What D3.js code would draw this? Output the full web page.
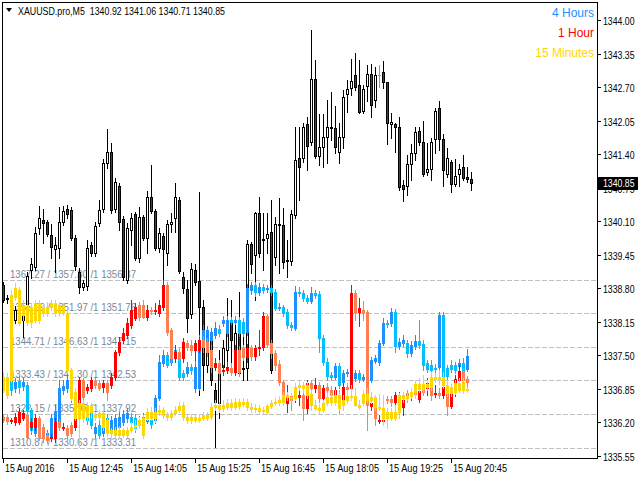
<!DOCTYPE html>
<html>
<head>
<meta charset="utf-8">
<script src="https://cdn.jsdelivr.net/npm/d3@7"></script>
<style>
body { margin: 0; background: #fff; }
svg text { font-family: "Liberation Sans", Arial, sans-serif; font-size: 11px; }
svg text.price { font-size: 10px; }
</style>
</head>
<body>
<div id="chart"></div>
<script>
// XAUUSD M5 bars, 15 Aug 2016 11:25 .. 21:10
let mainOpen = [1338.87,1338.61,1338.57,1338.19,1338.19,1338.19,1338.23,1339.16,1339.21,1339.97,1340.12,1340.09,1339.83,1339.56,1339.58,1340.09,1340.34,1340.32,1339.78,1339.12,1338.83,1338.85,1339.64,1339.48,1340.07,1340.34,1341.23,1341.44,1340.34,1340.78,1340.14,1338.96,1339.93,1340.24,1339.39,1340.18,1339.78,1340.57,1340.30,1339.58,1339.81,1339.48,1340.05,1340.16,1340.51,1339.02,1338.79,1338.30,1339.16,1338.94,1338.44,1337.32,1337.80,1336.83,1336.58,1337.27,1337.61,1338.13,1337.35,1338.03,1337.26,1337.26,1339.66,1339.45,1340.26,1339.76,1339.78,1339.89,1339.41,1340.05,1340.03,1339.35,1339.33,1340.22,1341.33,1341.33,1341.99,1341.64,1342.86,1341.36,1341.54,1341.73,1341.93,1341.91,1341.44,1341.73,1342.57,1342.68,1342.93,1342.74,1342.24,1342.72,1342.95,1342.45,1342.93,1342.99,1342.80,1341.98,1341.99,1341.93,1340.80,1340.78,1341.21,1341.42,1341.85,1341.64,1341.06,1341.11,1341.69,1342.29,1341.69,1341.01,1341.25,1340.82,1341.01,1341.15,1340.96,1340.92];
let mainHigh = [1338.92,1338.67,1338.61,1338.46,1338.42,1338.48,1339.12,1339.39,1339.99,1340.40,1340.34,1340.12,1340.05,1339.80,1340.38,1340.40,1340.42,1340.38,1339.83,1339.20,1338.96,1339.74,1339.70,1340.09,1340.51,1341.31,1341.89,1341.62,1340.94,1340.84,1340.20,1340.07,1340.26,1340.28,1340.38,1340.22,1340.69,1341.19,1340.34,1339.97,1339.87,1340.12,1340.26,1340.84,1340.57,1339.12,1338.96,1339.29,1339.27,1340.67,1338.57,1337.99,1337.90,1336.97,1337.61,1337.80,1338.61,1338.57,1338.19,1338.73,1338.19,1339.74,1339.70,1340.28,1340.57,1340.26,1340.26,1340.51,1340.18,1340.55,1340.36,1339.74,1340.32,1341.93,1341.93,1342.00,1342.12,1343.81,1343.23,1342.18,1342.18,1342.45,1342.60,1342.33,1342.00,1342.64,1342.84,1343.24,1343.36,1343.22,1342.74,1343.13,1343.15,1343.09,1343.13,1343.21,1342.80,1342.20,1342.00,1342.12,1340.90,1341.38,1341.60,1341.93,1341.93,1342.04,1341.62,1341.71,1342.29,1342.43,1341.79,1341.52,1341.29,1341.31,1341.21,1341.38,1341.15,1341.06];
let mainLow = [1338.54,1338.52,1338.23,1338.13,1338.15,1337.86,1338.15,1339.00,1339.16,1339.85,1339.68,1339.81,1339.39,1339.12,1339.39,1340.03,1340.16,1339.74,1339.16,1338.71,1338.77,1338.77,1339.43,1339.43,1340.01,1340.28,1341.13,1340.26,1340.28,1339.93,1338.96,1338.90,1339.64,1339.35,1339.31,1339.74,1339.48,1340.26,1339.54,1339.50,1338.96,1339.25,1339.89,1339.89,1339.10,1338.71,1337.95,1338.23,1338.86,1336.73,1336.83,1337.18,1336.93,1335.73,1336.29,1337.22,1337.16,1337.12,1337.26,1337.12,1337.02,1337.02,1339.10,1338.57,1339.41,1339.16,1339.48,1337.16,1339.25,1339.10,1339.19,1339.02,1339.25,1340.16,1340.51,1341.25,1341.09,1341.58,1341.33,1341.19,1341.15,1341.23,1341.68,1341.42,1341.23,1341.52,1342.22,1342.55,1342.64,1342.20,1342.20,1342.43,1342.12,1342.31,1342.70,1342.68,1341.60,1341.71,1341.44,1340.71,1340.49,1340.61,1340.90,1341.29,1341.58,1340.98,1341.00,1340.90,1341.42,1341.48,1340.78,1340.96,1340.67,1340.78,1340.78,1340.90,1340.86,1340.71];
let mainClose = [1338.57,1338.59,1338.30,1338.38,1338.36,1338.38,1339.04,1339.27,1339.87,1340.16,1340.07,1339.85,1339.60,1339.64,1340.09,1340.30,1340.24,1339.78,1339.23,1338.83,1338.90,1339.58,1339.48,1340.01,1340.32,1341.23,1341.44,1340.32,1340.86,1340.09,1339.02,1339.97,1340.16,1339.39,1340.18,1339.78,1340.57,1340.30,1339.58,1339.87,1339.56,1340.05,1340.09,1340.57,1339.14,1338.81,1338.23,1339.18,1338.92,1338.44,1337.32,1337.80,1337.02,1336.60,1337.35,1337.64,1338.15,1337.80,1337.94,1337.16,1337.24,1339.66,1339.27,1340.26,1339.48,1339.74,1339.85,1337.22,1340.05,1340.03,1339.31,1339.33,1340.24,1341.29,1341.15,1341.93,1341.56,1342.86,1341.36,1341.54,1341.73,1341.93,1341.91,1341.54,1341.73,1342.51,1342.66,1342.82,1342.70,1342.22,1342.66,1342.95,1342.35,1342.93,1342.93,1342.80,1342.00,1342.02,1341.93,1340.76,1340.73,1341.21,1341.42,1341.83,1341.64,1341.02,1341.11,1341.64,1342.24,1341.69,1341.09,1341.33,1340.82,1340.98,1341.11,1340.94,1340.92,1340.85];

// 4 Hours bars shown in the lower pane
let h4Open = [1333.5,1330.2,1333.2,1330.9,1333.2,1331.5,1331.9,1323.5,1315.8,1320.1,1317.5,1315.1,1314.4,1317.5,1318.5,1330.2,1330.9,1330.2,1327.5,1326.2,1324.8,1323.5,1323.5,1315.8,1318.5,1315.8,1320.8,1316.8,1316.8,1317.8,1319.5,1320.8,1321.1,1320.8,1318.5,1319.5,1319.8,1320.1,1320.1,1327.5,1339.2,1341.9,1339.6,1343.6,1342.9,1335.9,1335.9,1337.9,1330.9,1330.9,1346.9,1346.3,1346.9,1348.6,1350.6,1352.6,1349.3,1353.6,1353.0,1353.6,1353.0,1349.6,1363.7,1365.4,1363.0,1364.7,1364.0,1364.4,1363.0,1357.7,1358.0,1356.3,1352.0,1350.9,1363.0,1362.7,1361.0,1360.0,1362.7,1362.3,1347.6,1339.6,1335.2,1334.5,1338.2,1332.9,1335.9,1336.2,1334.2,1335.9,1333.9,1333.5,1333.5,1339.9,1339.6,1345.9,1352.6,1352.6,1356.3,1344.9,1345.9,1345.9,1342.6,1344.9,1346.6,1345.6,1339.2,1338.6,1337.6,1337.9,1355.3,1337.6,1338.6,1338.6,1338.2,1339.2,1337.2];
let h4High = [1334.9,1335.2,1334.2,1334.2,1334.9,1334.2,1332.9,1324.2,1321.8,1320.8,1318.5,1316.8,1322.1,1325.2,1333.5,1333.5,1335.5,1331.5,1328.9,1327.5,1326.2,1325.2,1324.8,1319.1,1320.1,1320.8,1322.1,1321.5,1322.1,1322.8,1323.5,1324.2,1322.5,1322.1,1321.5,1322.5,1321.5,1321.5,1328.5,1341.9,1343.6,1342.9,1343.6,1344.6,1343.6,1336.9,1339.6,1338.9,1340.2,1348.6,1352.0,1351.6,1351.0,1353.0,1352.0,1355.0,1355.0,1354.6,1355.0,1354.6,1354.3,1365.7,1366.4,1366.4,1366.0,1365.7,1365.4,1365.4,1364.0,1359.3,1358.7,1357.3,1353.0,1365.0,1364.7,1363.7,1362.0,1364.7,1363.7,1363.4,1348.6,1340.9,1336.2,1339.2,1339.2,1336.9,1337.2,1337.2,1336.9,1336.9,1335.5,1335.5,1341.2,1341.9,1346.9,1354.3,1353.6,1357.7,1357.3,1347.6,1348.6,1346.9,1346.6,1348.6,1353.6,1346.9,1340.2,1340.2,1338.9,1356.3,1356.3,1338.6,1340.2,1339.6,1340.6,1340.9,1343.9];
let h4Low = [1329.5,1328.5,1328.5,1329.5,1329.2,1330.2,1322.8,1315.4,1314.8,1314.1,1313.4,1314.1,1313.4,1316.8,1317.5,1328.9,1329.5,1326.2,1324.8,1322.8,1321.5,1318.8,1317.5,1314.4,1314.1,1314.8,1314.8,1315.8,1316.1,1316.8,1318.5,1319.5,1318.1,1316.1,1317.5,1318.5,1319.1,1317.5,1319.1,1326.8,1338.2,1337.9,1338.6,1340.9,1333.5,1333.5,1334.9,1335.5,1329.5,1330.2,1345.9,1345.3,1345.6,1347.6,1348.3,1351.6,1348.3,1352.3,1352.3,1348.3,1348.3,1348.6,1362.3,1361.7,1362.0,1362.7,1363.0,1362.0,1357.0,1357.0,1355.0,1351.0,1350.3,1350.3,1361.7,1360.0,1359.3,1359.3,1361.0,1342.9,1338.6,1333.5,1333.5,1333.9,1330.9,1331.9,1334.9,1334.2,1333.2,1332.9,1333.2,1332.9,1332.9,1339.2,1338.6,1345.3,1351.3,1351.6,1342.9,1343.9,1344.9,1341.2,1341.6,1343.9,1344.3,1336.9,1336.2,1335.9,1336.2,1336.9,1333.5,1333.9,1336.2,1335.9,1337.2,1335.9,1336.5];
let h4Close = [1330.9,1333.2,1330.2,1332.9,1331.2,1332.9,1323.5,1316.8,1320.1,1316.8,1314.4,1315.8,1320.8,1322.8,1330.9,1331.5,1333.5,1327.5,1326.2,1324.2,1322.8,1320.1,1318.5,1317.8,1315.1,1319.5,1315.8,1320.1,1320.8,1321.1,1322.1,1322.5,1319.5,1317.5,1320.1,1321.1,1320.1,1318.8,1327.5,1339.6,1341.9,1338.6,1342.6,1341.9,1334.5,1334.5,1337.9,1336.9,1337.9,1346.3,1350.3,1350.3,1349.6,1351.0,1349.3,1353.6,1353.6,1353.0,1353.6,1349.3,1349.3,1364.4,1365.4,1363.0,1364.7,1363.7,1364.4,1363.0,1357.7,1358.0,1356.0,1352.0,1351.3,1363.0,1362.7,1361.0,1360.0,1362.7,1362.0,1347.6,1339.6,1334.9,1334.5,1338.2,1331.9,1335.9,1336.2,1335.2,1335.9,1333.9,1334.5,1334.2,1340.2,1340.9,1345.9,1352.6,1352.3,1356.3,1344.9,1346.3,1346.9,1342.6,1345.3,1346.6,1345.3,1338.6,1337.2,1336.9,1337.2,1355.3,1334.5,1334.9,1337.2,1336.9,1339.2,1336.9,1341.6];

// 1 Hour bars
let h1Open = [1335.49,1335.49,1334.85,1334.69,1334.69,1335.33,1335.81,1333.90,1333.90,1335.33,1333.90,1332.64,1332.16,1332.16,1334.69,1333.74,1333.74,1334.22,1333.90,1337.70,1341.35,1339.77,1340.08,1341.19,1340.87,1340.24,1340.87,1340.56,1341.83,1345.78,1347.69,1348.48,1350.06,1351.17,1353.23,1353.23,1351.33,1352.44,1352.28,1351.96,1352.91,1356.40,1349.27,1344.83,1345.78,1344.83,1347.21,1346.89,1346.10,1346.10,1347.69,1347.37,1346.10,1343.41,1344.04,1342.78,1342.93,1343.25,1342.62,1346.10,1346.42,1345.00,1346.42,1345.15,1346.42,1346.58,1351.49,1347.21,1345.63,1343.89,1341.04,1337.70,1338.82,1338.50,1338.66,1338.97,1336.92,1340.87,1340.08,1340.56,1338.50,1340.24,1339.77,1338.97,1338.97,1337.86,1340.24,1340.08,1355.13,1352.12,1352.44,1352.12,1337.23,1337.07,1334.85,1334.85,1338.34,1338.34,1337.86,1338.66,1337.07,1339.29,1338.82,1339.45,1338.34,1340.08,1340.08,1340.56,1339.13,1339.29,1338.97,1339.29,1337.23,1339.45,1341.35,1342.78,1341.51];
let h1High = [1335.97,1335.81,1335.33,1336.13,1336.92,1336.60,1336.28,1335.33,1335.97,1335.65,1334.38,1333.11,1332.80,1335.33,1335.17,1334.53,1334.22,1334.69,1338.81,1341.82,1341.66,1340.72,1341.83,1341.66,1341.35,1341.35,1341.35,1342.46,1346.10,1348.16,1349.58,1351.17,1354.02,1353.55,1353.71,1354.02,1353.23,1352.91,1353.55,1354.02,1357.19,1356.87,1349.58,1346.89,1346.42,1348.00,1347.69,1347.69,1347.69,1348.16,1348.32,1348.00,1346.89,1344.83,1344.52,1343.73,1344.20,1344.04,1346.89,1346.73,1346.89,1347.05,1346.89,1346.89,1349.27,1352.12,1351.81,1347.69,1346.10,1344.52,1341.35,1340.56,1339.29,1340.08,1339.77,1339.77,1341.35,1341.35,1341.66,1341.04,1340.56,1340.87,1340.40,1340.24,1339.77,1340.87,1340.87,1356.40,1355.61,1354.34,1353.86,1352.44,1338.18,1337.70,1335.81,1336.92,1338.82,1338.82,1339.45,1339.45,1338.97,1339.77,1340.08,1339.93,1340.24,1340.56,1341.66,1341.35,1340.56,1340.08,1340.56,1340.56,1340.08,1342.14,1343.73,1343.25,1341.98];
let h1Low = [1334.69,1334.38,1334.53,1334.22,1334.38,1335.01,1331.85,1333.43,1333.43,1331.85,1331.53,1331.37,1331.69,1331.53,1333.43,1333.43,1332.16,1332.48,1333.43,1337.39,1338.18,1339.29,1339.61,1340.08,1339.77,1339.45,1338.18,1340.08,1341.35,1345.31,1347.21,1348.00,1349.58,1350.85,1350.85,1351.17,1350.85,1351.81,1351.81,1351.49,1352.44,1348.48,1344.20,1344.20,1344.20,1344.20,1346.10,1345.31,1344.52,1345.78,1345.78,1345.15,1342.62,1342.93,1341.35,1342.14,1342.46,1342.14,1342.14,1341.98,1344.52,1344.20,1344.52,1344.52,1345.31,1346.10,1346.58,1344.83,1342.93,1340.56,1337.39,1336.28,1336.60,1337.86,1337.39,1335.01,1336.13,1339.45,1339.45,1337.86,1337.86,1338.97,1338.18,1338.50,1336.13,1336.60,1338.97,1339.77,1350.85,1349.90,1350.85,1333.43,1336.60,1334.22,1334.53,1334.53,1337.70,1337.23,1337.39,1338.18,1335.81,1337.86,1338.18,1338.50,1337.86,1338.97,1338.97,1338.18,1338.66,1338.50,1338.50,1335.81,1336.92,1338.82,1340.56,1340.56,1340.40];
let h1Close = [1335.01,1334.85,1335.01,1335.49,1336.28,1336.13,1332.32,1334.69,1335.33,1332.32,1332.16,1331.85,1332.32,1334.69,1333.90,1333.90,1332.64,1332.95,1338.18,1341.35,1338.66,1340.24,1341.35,1340.56,1340.08,1340.87,1339.45,1341.83,1345.78,1347.37,1348.79,1350.38,1352.44,1352.91,1351.33,1351.33,1352.44,1352.28,1352.44,1353.23,1356.40,1348.95,1344.83,1345.78,1344.83,1347.37,1346.58,1346.10,1347.21,1347.69,1346.58,1345.78,1343.41,1344.04,1342.46,1342.93,1343.41,1342.62,1346.10,1342.62,1345.00,1346.42,1345.15,1346.42,1346.58,1351.49,1347.05,1345.63,1343.73,1341.04,1338.97,1338.50,1338.18,1339.29,1338.97,1336.92,1340.87,1340.08,1340.56,1338.50,1340.08,1339.77,1338.97,1339.77,1336.92,1340.24,1339.93,1355.13,1352.12,1352.75,1351.96,1337.39,1337.70,1335.33,1335.01,1335.01,1338.18,1337.86,1338.97,1338.97,1338.18,1338.50,1339.45,1339.13,1339.61,1339.45,1340.87,1338.97,1339.29,1338.97,1340.24,1337.23,1339.29,1341.51,1342.78,1341.35,1341.04];

// 15 Minutes bars
let m15Open = [1341.22,1340.54,1342.59,1353.95,1354.91,1351.49,1352.86,1350.53,1350.80,1353.13,1351.76,1352.58,1352.58,1353.13,1351.76,1352.86,1351.76,1343.96,1340.95,1337.38,1339.44,1337.52,1339.17,1337.79,1337.52,1338.07,1337.11,1335.33,1335.74,1335.06,1335.74,1335.06,1335.74,1336.15,1336.42,1335.06,1337.38,1338.21,1337.38,1338.21,1338.48,1337.79,1337.52,1338.07,1338.48,1339.17,1337.52,1337.11,1337.52,1337.11,1337.38,1337.79,1337.52,1338.89,1339.17,1338.75,1338.89,1339.44,1338.89,1339.58,1339.30,1339.58,1338.89,1338.62,1338.75,1338.34,1338.21,1339.03,1339.44,1339.58,1339.58,1340.54,1340.26,1340.12,1341.63,1341.90,1341.90,1340.67,1339.17,1338.75,1338.48,1339.44,1340.26,1339.58,1340.54,1339.17,1339.85,1340.26,1340.40,1339.17,1339.44,1340.67,1339.85,1340.26,1338.89,1338.75,1337.38,1338.21,1337.38,1338.21,1340.54,1340.12,1340.40,1340.95,1342.04,1341.36,1342.04,1341.63,1343.00,1342.73,1343.00,1341.90,1340.81,1340.95,1342.18,1341.22,1341.22];
let m15High = [1343.69,1343.55,1354.91,1355.87,1355.32,1353.54,1353.54,1353.13,1353.54,1353.54,1353.13,1353.27,1353.54,1353.54,1353.27,1353.13,1352.17,1344.24,1341.49,1339.85,1339.85,1339.58,1339.44,1338.21,1338.48,1338.48,1337.38,1336.01,1336.15,1336.29,1336.01,1336.15,1336.84,1337.11,1337.52,1337.79,1338.75,1338.89,1338.75,1339.17,1338.89,1338.21,1338.48,1339.03,1339.58,1339.58,1337.93,1337.93,1337.79,1337.79,1338.21,1338.21,1339.44,1339.85,1339.58,1339.85,1339.99,1339.99,1340.12,1339.99,1340.12,1339.99,1339.44,1339.30,1339.17,1338.89,1339.30,1339.85,1340.12,1340.40,1340.95,1340.95,1340.81,1342.18,1342.59,1342.32,1342.32,1341.22,1339.85,1339.30,1339.85,1340.81,1340.81,1341.22,1340.95,1340.54,1341.22,1341.90,1341.49,1339.85,1341.22,1341.49,1340.95,1340.54,1340.67,1340.54,1338.75,1338.75,1339.17,1340.81,1340.95,1340.81,1341.49,1342.59,1342.86,1343.28,1342.59,1343.69,1343.55,1343.96,1343.69,1342.59,1342.04,1342.59,1342.86,1342.86,1341.63];
let m15Low = [1340.95,1340.12,1342.32,1353.54,1350.12,1350.80,1350.12,1349.84,1350.53,1350.39,1351.35,1351.35,1352.17,1351.35,1351.35,1351.49,1343.69,1339.85,1337.11,1333.41,1336.84,1337.11,1337.38,1337.11,1337.11,1335.74,1334.92,1334.64,1334.64,1334.64,1334.78,1334.78,1335.47,1335.74,1336.01,1334.64,1337.11,1337.11,1336.84,1337.79,1337.38,1337.11,1337.11,1337.79,1338.21,1337.11,1336.70,1336.70,1336.84,1336.84,1337.11,1337.11,1337.25,1338.48,1338.21,1338.34,1338.62,1338.48,1338.62,1338.62,1339.03,1338.48,1338.21,1338.21,1338.07,1338.07,1337.93,1338.75,1339.17,1339.17,1339.17,1339.85,1339.58,1339.85,1341.22,1340.95,1340.12,1338.48,1338.48,1338.07,1338.21,1339.17,1339.17,1339.17,1338.48,1338.48,1339.44,1339.85,1339.03,1338.62,1339.17,1339.58,1339.44,1338.48,1338.48,1336.42,1336.01,1337.11,1337.11,1337.38,1339.58,1339.85,1340.12,1340.12,1340.95,1340.95,1341.22,1341.22,1342.32,1342.04,1341.49,1340.40,1340.40,1340.67,1340.95,1340.81,1340.95];
let m15Close = [1343.00,1343.00,1354.23,1355.18,1350.39,1352.86,1350.53,1352.58,1353.13,1350.80,1352.58,1351.76,1353.13,1351.76,1352.86,1351.76,1343.96,1340.12,1337.38,1339.44,1337.38,1339.17,1338.21,1337.52,1338.07,1336.15,1335.33,1335.74,1335.06,1335.74,1335.06,1335.74,1336.15,1336.42,1337.11,1337.38,1338.21,1337.38,1338.21,1338.48,1337.79,1337.52,1338.07,1338.48,1339.03,1337.52,1337.11,1337.52,1337.11,1337.38,1337.79,1337.38,1338.89,1339.17,1338.62,1339.17,1339.44,1338.89,1339.58,1339.03,1339.58,1338.89,1338.62,1338.75,1338.34,1338.48,1339.03,1339.44,1339.58,1339.85,1340.54,1340.26,1340.12,1341.63,1341.90,1341.49,1340.54,1339.17,1338.75,1338.48,1339.44,1340.26,1339.58,1340.54,1338.75,1339.85,1340.40,1340.40,1339.17,1338.89,1340.67,1339.85,1340.26,1338.89,1338.75,1337.38,1338.21,1337.38,1338.21,1340.54,1340.12,1340.40,1340.95,1342.04,1341.36,1342.04,1341.63,1343.00,1342.73,1343.00,1341.90,1340.81,1341.63,1342.18,1341.22,1342.32,1341.36];

// price levels printed on the dashed lines of the lower pane
let h4Levels = [1367.27,1355.99,1344.71,1333.43,1322.15,1310.87];
let h1Levels = [1357.30,1351.97,1346.63,1341.30,1335.97,1330.63];
let m15Levels = [1356.37,1351.76,1347.15,1342.53,1337.92,1333.31];

let priceTicks = [1344.00,1343.35,1342.70,1342.05,1341.40,1340.75,1340.10,1339.45,1338.80,1338.15,1337.50,1336.85,1336.20,1335.55];
let timeLabels = ["15 Aug 2016","15 Aug 12:45","15 Aug 14:05","15 Aug 15:25","15 Aug 16:45","15 Aug 18:05","15 Aug 19:25","15 Aug 20:45"];
let timeTickBars = [0,16,32,48,64,80,96,112];

let legendNames = ["4 Hours","1 Hour","15 Minutes"];
let legendColors = ["#1e90ff","#ff0000","#ffd700"];

let svg = d3.select("#chart").append("svg")
    .attr("width", 640)
    .attr("height", 480);

let x = d3.scaleLinear().domain([0, mainOpen.length - 1]).range([3, 471]);
let y = d3.scaleLinear().domain([1335.55, 1344.00]).range([456, 20]);

// lower pane scales, one per timeframe
let paneRange = [447.5, 279.5];
let yH4 = d3.scaleLinear().domain([h4Levels[5], h4Levels[0]]).range(paneRange);
let yH1 = d3.scaleLinear().domain([h1Levels[5], h1Levels[0]]).range(paneRange);
let yM15 = d3.scaleLinear().domain([m15Levels[5], m15Levels[0]]).range(paneRange);

// the terminal font is narrow; squeeze text to its width (~4.5px a char)
function narrow(sel, str) {
    sel.text(str)
        .attr("textLength", (str.length * 4.5).toFixed(1))
        .attr("lengthAdjust", "spacingAndGlyphs");
    return sel;
}

let gGrid = svg.append("g").attr("shape-rendering", "crispEdges");
let gMain = svg.append("g").attr("shape-rendering", "crispEdges");
let gOver = svg.append("g").attr("shape-rendering", "crispEdges");
let gAxis = svg.append("g");

// dashed level lines + their labels
h4Levels.forEach((lv, k) => {
    let ly = Math.round(yH4(lv)) + 0.5;
    gGrid.append("line")
        .attr("x1", 3).attr("x2", 597)
        .attr("y1", ly).attr("y2", ly)
        .attr("stroke", "#c0c0c0")
        .attr("stroke-dasharray", "5,2");
    narrow(gGrid.append("text")
        .attr("x", 10)
        .attr("y", ly - 2.5)
        .attr("fill", "#778899"),
        lv.toFixed(2) + " / " + h1Levels[k].toFixed(2) + " /1 " + m15Levels[k].toFixed(2));
});

// main M5 candles
mainOpen.forEach((op, i) => {
    let cl = mainClose[i];
    let cx = Math.round(x(i));
    let yh = Math.round(y(mainHigh[i])), yl = Math.round(y(mainLow[i]));
    let yt = Math.round(y(Math.max(op, cl))), yb = Math.round(y(Math.min(op, cl)));
    let doji = op === cl;
    let ink = doji ? "#00ff00" : "#000";
    gMain.append("rect")
        .attr("x", cx).attr("y", yh)
        .attr("width", 1).attr("height", Math.max(1, yl - yh + 1))
        .attr("fill", ink);
    if (doji) {
        gMain.append("rect").attr("x", cx - 1).attr("y", yt).attr("width", 3).attr("height", 1).attr("fill", ink);
        return;
    }
    gMain.append("rect")
        .attr("x", cx - 1).attr("y", yt)
        .attr("width", 3).attr("height", Math.max(1, yb - yt + 1))
        .attr("fill", "#000");
    if (yb - yt > 1) {
        gMain.append("rect")
            .attr("x", cx).attr("y", yt + 1)
            .attr("width", 1).attr("height", yb - yt - 1)
            .attr("fill", cl > op ? "#fff" : "#e00000");
    }
});

function drawOverlay(o, h, l, c, sc, upColor, downColor) {
    o.forEach((op, i) => {
        let cl = c[i];
        let cx = Math.round(x(i));
        let col = cl >= op ? upColor : downColor;
        let yh = Math.round(sc(h[i])), yl = Math.round(sc(l[i]));
        let yt = Math.round(sc(Math.max(op, cl))), yb = Math.round(sc(Math.min(op, cl)));
        gOver.append("rect")
            .attr("x", cx).attr("y", yh)
            .attr("width", 1).attr("height", Math.max(1, yl - yh + 1))
            .attr("fill", col);
        gOver.append("rect")
            .attr("x", cx - 1).attr("y", yt)
            .attr("width", 3).attr("height", Math.max(1, yb - yt + 1))
            .attr("fill", col);
    });
}
drawOverlay(h4Open, h4High, h4Low, h4Close, yH4, "#1e90ff", "#00bfff");
drawOverlay(h1Open, h1High, h1Low, h1Close, yH1, "#ff0000", "#ff7f50");
drawOverlay(m15Open, m15High, m15Low, m15Close, yM15, "#ffd700", "#ffd700");

// frame
gAxis.append("path")
    .attr("d", "M2.5,459 V2.5 H597.5 V458.5 H2.5")
    .attr("fill", "none")
    .attr("stroke", "#000")
    .attr("shape-rendering", "crispEdges");

// price axis
priceTicks.forEach(t => {
    let ty = Math.round(y(t)) + 0.5;
    gAxis.append("line")
        .attr("x1", 597).attr("x2", 601)
        .attr("y1", ty).attr("y2", ty)
        .attr("stroke", "#000").attr("shape-rendering", "crispEdges");
    narrow(gAxis.append("text")
        .attr("class", "price")
        .attr("x", 603).attr("y", ty + 4)
        .attr("fill", "#000"), t.toFixed(2));
});

// current price box, drawn over the 1340.75 label as in the terminal
let last = mainClose[mainClose.length - 1];
let ly = Math.round(y(last));
gAxis.append("rect")
    .attr("x", 598).attr("y", ly - 6)
    .attr("width", 40).attr("height", 13)
    .attr("fill", "#000");
narrow(gAxis.append("text")
    .attr("class", "price")
    .attr("x", 603).attr("y", ly + 4)
    .attr("fill", "#fff"), last.toFixed(2));

// time axis
timeTickBars.forEach((b, k) => {
    let tx = Math.round(x(b)) + 0.5;
    gAxis.append("line")
        .attr("x1", tx).attr("x2", tx)
        .attr("y1", 458).attr("y2", 463)
        .attr("stroke", "#000").attr("shape-rendering", "crispEdges");
    narrow(gAxis.append("text")
        .attr("x", tx + 1.5).attr("y", 472)
        .attr("fill", "#000"), timeLabels[k]);
});

// title line
let n = mainOpen.length - 1;
gAxis.append("path")
    .attr("d", "M6,8 H12 L9,12 Z")
    .attr("fill", "#000");
narrow(gAxis.append("text")
    .attr("x", 18).attr("y", 15)
    .attr("fill", "#000")
    .style("white-space", "pre"),
    "XAUUSD.pro,M5  " + [mainOpen[n], mainHigh[n], mainLow[n], mainClose[n]].map(v => v.toFixed(2)).join(" "));

// legend
legendNames.forEach((name, k) => {
    gAxis.append("text")
        .attr("x", 594).attr("y", 17 + k * 20)
        .attr("text-anchor", "end")
        .attr("fill", legendColors[k])
        .style("font-size", "12px")
        .text(name);
});
</script>
</body>
</html>
